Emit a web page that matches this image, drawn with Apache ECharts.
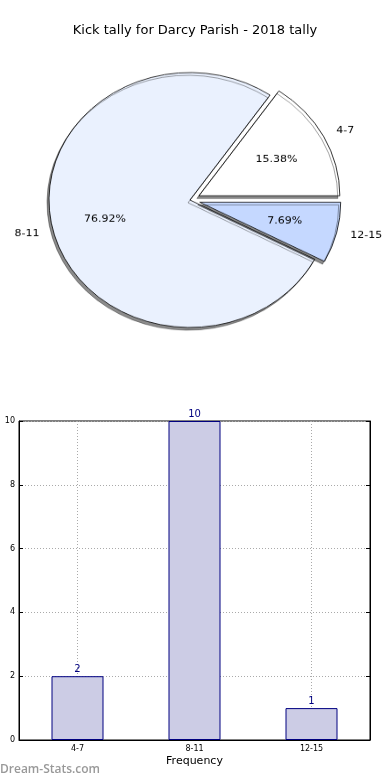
<!DOCTYPE html>
<html><head><meta charset="utf-8">
<script src="https://cdn.jsdelivr.net/npm/echarts@6/dist/echarts.min.js"></script>
<style>
html,body{margin:0;padding:0;background:#fff}
#wrap{position:relative;width:390px;height:780px;overflow:hidden}
#c{position:absolute;left:0;top:0;width:390px;height:780px}
#p{position:absolute;left:0;top:0;width:390px;height:400px;transform:scaleY(0.904);transform-origin:190px 200px}
</style>
</head><body><div id="wrap"><div id="c"></div><div id="p"></div></div>
<script>
const chartTitle = 'Kick tally for Darcy Parish - 2018 tally';
const categories = ['4-7', '8-11', '12-15'];
const counts = [2, 10, 1];
const exploded = [true, false, true];
const sliceColors = ['#ffffff', '#eaf1fe', '#c5d8ff'];
const yTicks = [0, 2, 4, 6, 8, 10];
const xAxisName = 'Frequency';
const yAxisName = 'Kick tally';
const watermark = 'Dream-Stats.com';

const R = 141;
const C = [190, 200];
const font = 'DejaVu Sans';
const total = counts.reduce((a, b) => a + b, 0);

function pieData(colorFn) {
  return categories.map((c, i) => ({
    name: c, value: counts[i], selected: exploded[i],
    itemStyle: colorFn(i)
  }));
}

const chart = echarts.init(document.getElementById('c'));
chart.setOption({
  animation: false,
  textStyle: { fontFamily: font },
  title: { text: chartTitle, left: 'center', top: 19, textStyle: { fontFamily: font, fontSize: 13, fontWeight: 'normal', color: '#000' } },
  graphic: [{ type: 'text', left: 0, top: 764, style: { text: watermark, fill: '#999', font: '600 12px "Open Sans"' } }],
  grid: { left: 19, right: 20, top: 421, bottom: 40, show: true, borderColor: '#000', borderWidth: 1, outerBoundsMode: 'none', containLabel: false },
  xAxis: [{
    type: 'category', data: categories, position: 'bottom',
    name: xAxisName, nameLocation: 'middle', nameGap: 16,
    nameTextStyle: { fontFamily: font, fontSize: 11, color: '#000' },
    axisLine: { lineStyle: { color: '#000' } },
    axisTick: { show: true, alignWithLabel: true, inside: true, length: 4, lineStyle: { color: '#000' } },
    axisLabel: { fontFamily: font, fontSize: 8, color: '#000', margin: 5 },
    splitLine: { show: true, alignWithLabel: true, lineStyle: { type: [1, 2], color: '#aaa' } }
  }],
  yAxis: [{
    type: 'value', min: 0, max: 10, interval: 2,
    name: yAxisName, nameLocation: 'middle', nameGap: 17,
    nameTextStyle: { fontFamily: font, fontSize: 11, color: '#000' },
    axisLine: { show: true, lineStyle: { color: '#000' } },
    axisTick: { show: true, inside: true, length: 4, lineStyle: { color: '#000' } },
    axisLabel: { fontFamily: font, fontSize: 8, color: '#000', margin: 4 },
    splitLine: { show: true, lineStyle: { type: [1, 2], color: '#aaa' } }
  }, {
    type: 'value', min: 0, max: 10, interval: 2, position: 'right',
    axisLine: { show: true, lineStyle: { color: '#000' } },
    axisTick: { show: true, inside: true, length: 4, lineStyle: { color: '#000' } },
    axisLabel: { show: false }, splitLine: { show: false }
  }],
  series: [{
    type: 'bar', data: counts, barWidth: 52, xAxisIndex: 0, yAxisIndex: 0,
    itemStyle: { color: '#ccccE5', borderColor: '#000080', borderWidth: 1 },
    label: { show: true, position: 'top', distance: 2, color: '#000080', fontFamily: font, fontSize: 10 }
  }]
});

const pie = echarts.init(document.getElementById('p'));
pie.setOption({
  animation: false,
  textStyle: { fontFamily: font },
  series: [{
    type: 'pie', center: C, radius: R, startAngle: 0, clockwise: false,
    selectedMode: 'multiple', selectedOffset: 10, avoidLabelOverlap: false,
    emphasis: { disabled: true }, silent: true,
    itemStyle: { borderColor: '#000', borderWidth: 0.8, shadowColor: 'rgba(0,0,0,0.45)', shadowBlur: 0, shadowOffsetX: -2, shadowOffsetY: 3 },
    label: { show: true, position: 'outside', formatter: '{b}', fontFamily: font, fontSize: 11, color: '#000', distanceToLabelLine: 0, overflow: 'none', bleedMargin: 0 },
    labelLine: { show: false, length: R * 0.1, length2: 0 },
    data: pieData(i => ({ color: sliceColors[i] }))
  }, {
    type: 'pie', center: C, radius: [R * 0.2, R], startAngle: 0, clockwise: false,
    selectedMode: 'multiple', selectedOffset: 10, avoidLabelOverlap: false,
    emphasis: { disabled: true }, silent: true,
    itemStyle: { color: 'rgba(0,0,0,0)', borderWidth: 0 },
    label: { show: true, position: 'inside', formatter: p => (p.value / total * 100).toFixed(2) + '%', fontFamily: font, fontSize: 11, color: '#000' },
    labelLine: { show: false },
    data: pieData(() => ({ color: 'rgba(0,0,0,0)' }))
  }]
});
</script></body></html>
